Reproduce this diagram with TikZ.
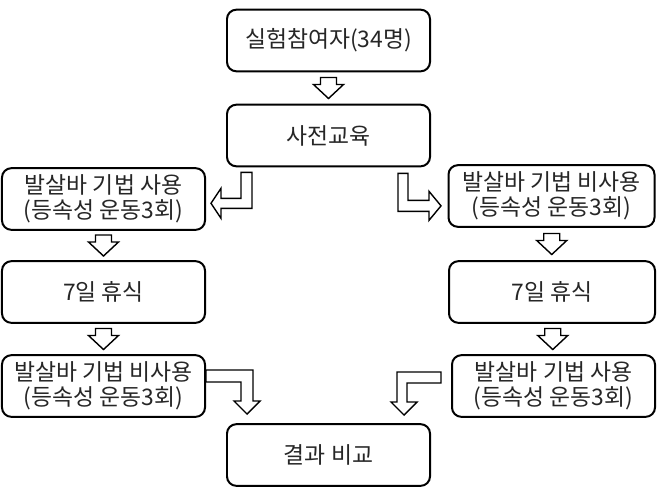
\documentclass[tikz,border=0pt]{standalone}
\usepackage{fontspec}
\newfontfamily\krfont{Noto Sans CJK KR}
\usetikzlibrary{calc}

\begin{document}
\begin{tikzpicture}[x=0.03cm,y=-0.03cm,line join=round,
	box/.style={draw,line width=1.7pt,rounded corners=8pt,minimum width=6.09cm,minimum height=1.85cm,inner sep=0pt,align=center,font=\krfont\fontsize{19.5}{21.5}\selectfont,text=black!85},
	blk/.style={draw,fill=white,line width=1.2pt,line join=miter},
	dnarrow/.pic={\draw[blk] (-8,-10.5) -- (8,-10.5) -- (8,-3.5) -- (15,-3.5) -- (0,10.5) -- (-15,-3.5) -- (-8,-3.5) -- cycle;}]
	\useasboundingbox (0,0) rectangle (657,497);
	
	\node[box] (b1) at (328.5,40.5) {실험참여자(34명)};
	\node[box] (b2) at (328.5,135.5) {사전교육};
	\node[box] (l1) at (103.5,199) {발살바 기법 사용\\(등속성 운동3회)};
	\node[box,minimum width=6.18cm] (r1) at (551.5,196) {발살바 기법 비사용\\(등속성 운동3회)};
	\node[box] (l2) at (103.5,292) {7일 휴식};
	\node[box,minimum width=6.18cm] (r2) at (552,292) {7일 휴식};
	\node[box] (l3) at (103.5,386) {발살바 기법 비사용\\(등속성 운동3회)};
	\node[box] (r3) at (553.5,386) {발살바 기법 사용\\(등속성 운동3회)};
	\node[box] (b3) at (328.5,455) {결과 비교};
	
	% straight arrows
	\foreach \a/\b in {b1/b2,l1/l2,l2/l3,r1/r2,r2/r3}{
		\pic at ($(\a.south)!0.5!(\b.north)$) {dnarrow};
	}
	
	% bent arrows
	\coordinate (p1) at ($(b2.south west)+(15,5)$);
	\coordinate (p2) at ($(b2.south east)+(-23,6)$);
	\coordinate (p3) at ($(l3.east)+(0,-16)$);
	\coordinate (p4) at ($(r3.west)+(-10,-14)$);
	\draw[blk] (p1) -- ++(11,0) -- ++(0,36) -- ++(-31,0) -- ++(0,10) -- ++(-10,-15) -- ++(10,-15) -- ++(0,10) -- ++(20,0) -- cycle;
	\draw[blk] (p2) -- ++(-10,0) -- ++(0,38) -- ++(31,0) -- ++(0,9) -- ++(12,-14.5) -- ++(-12,-14.5) -- ++(0,9) -- ++(-21,0) -- cycle;
	\draw[blk] (p3) -- ++(47,0) -- ++(0,31) -- ++(7,0) -- ++(-13,13) -- ++(-13,-13) -- ++(7,0) -- ++(0,-19) -- ++(-35,0) -- cycle;
	\draw[blk] (p4) -- ++(-44,0) -- ++(0,30) -- ++(-6,0) -- ++(13,13) -- ++(13,-13) -- ++(-10,0) -- ++(0,-19) -- ++(34,0) -- cycle;
\end{tikzpicture}
\end{document}
